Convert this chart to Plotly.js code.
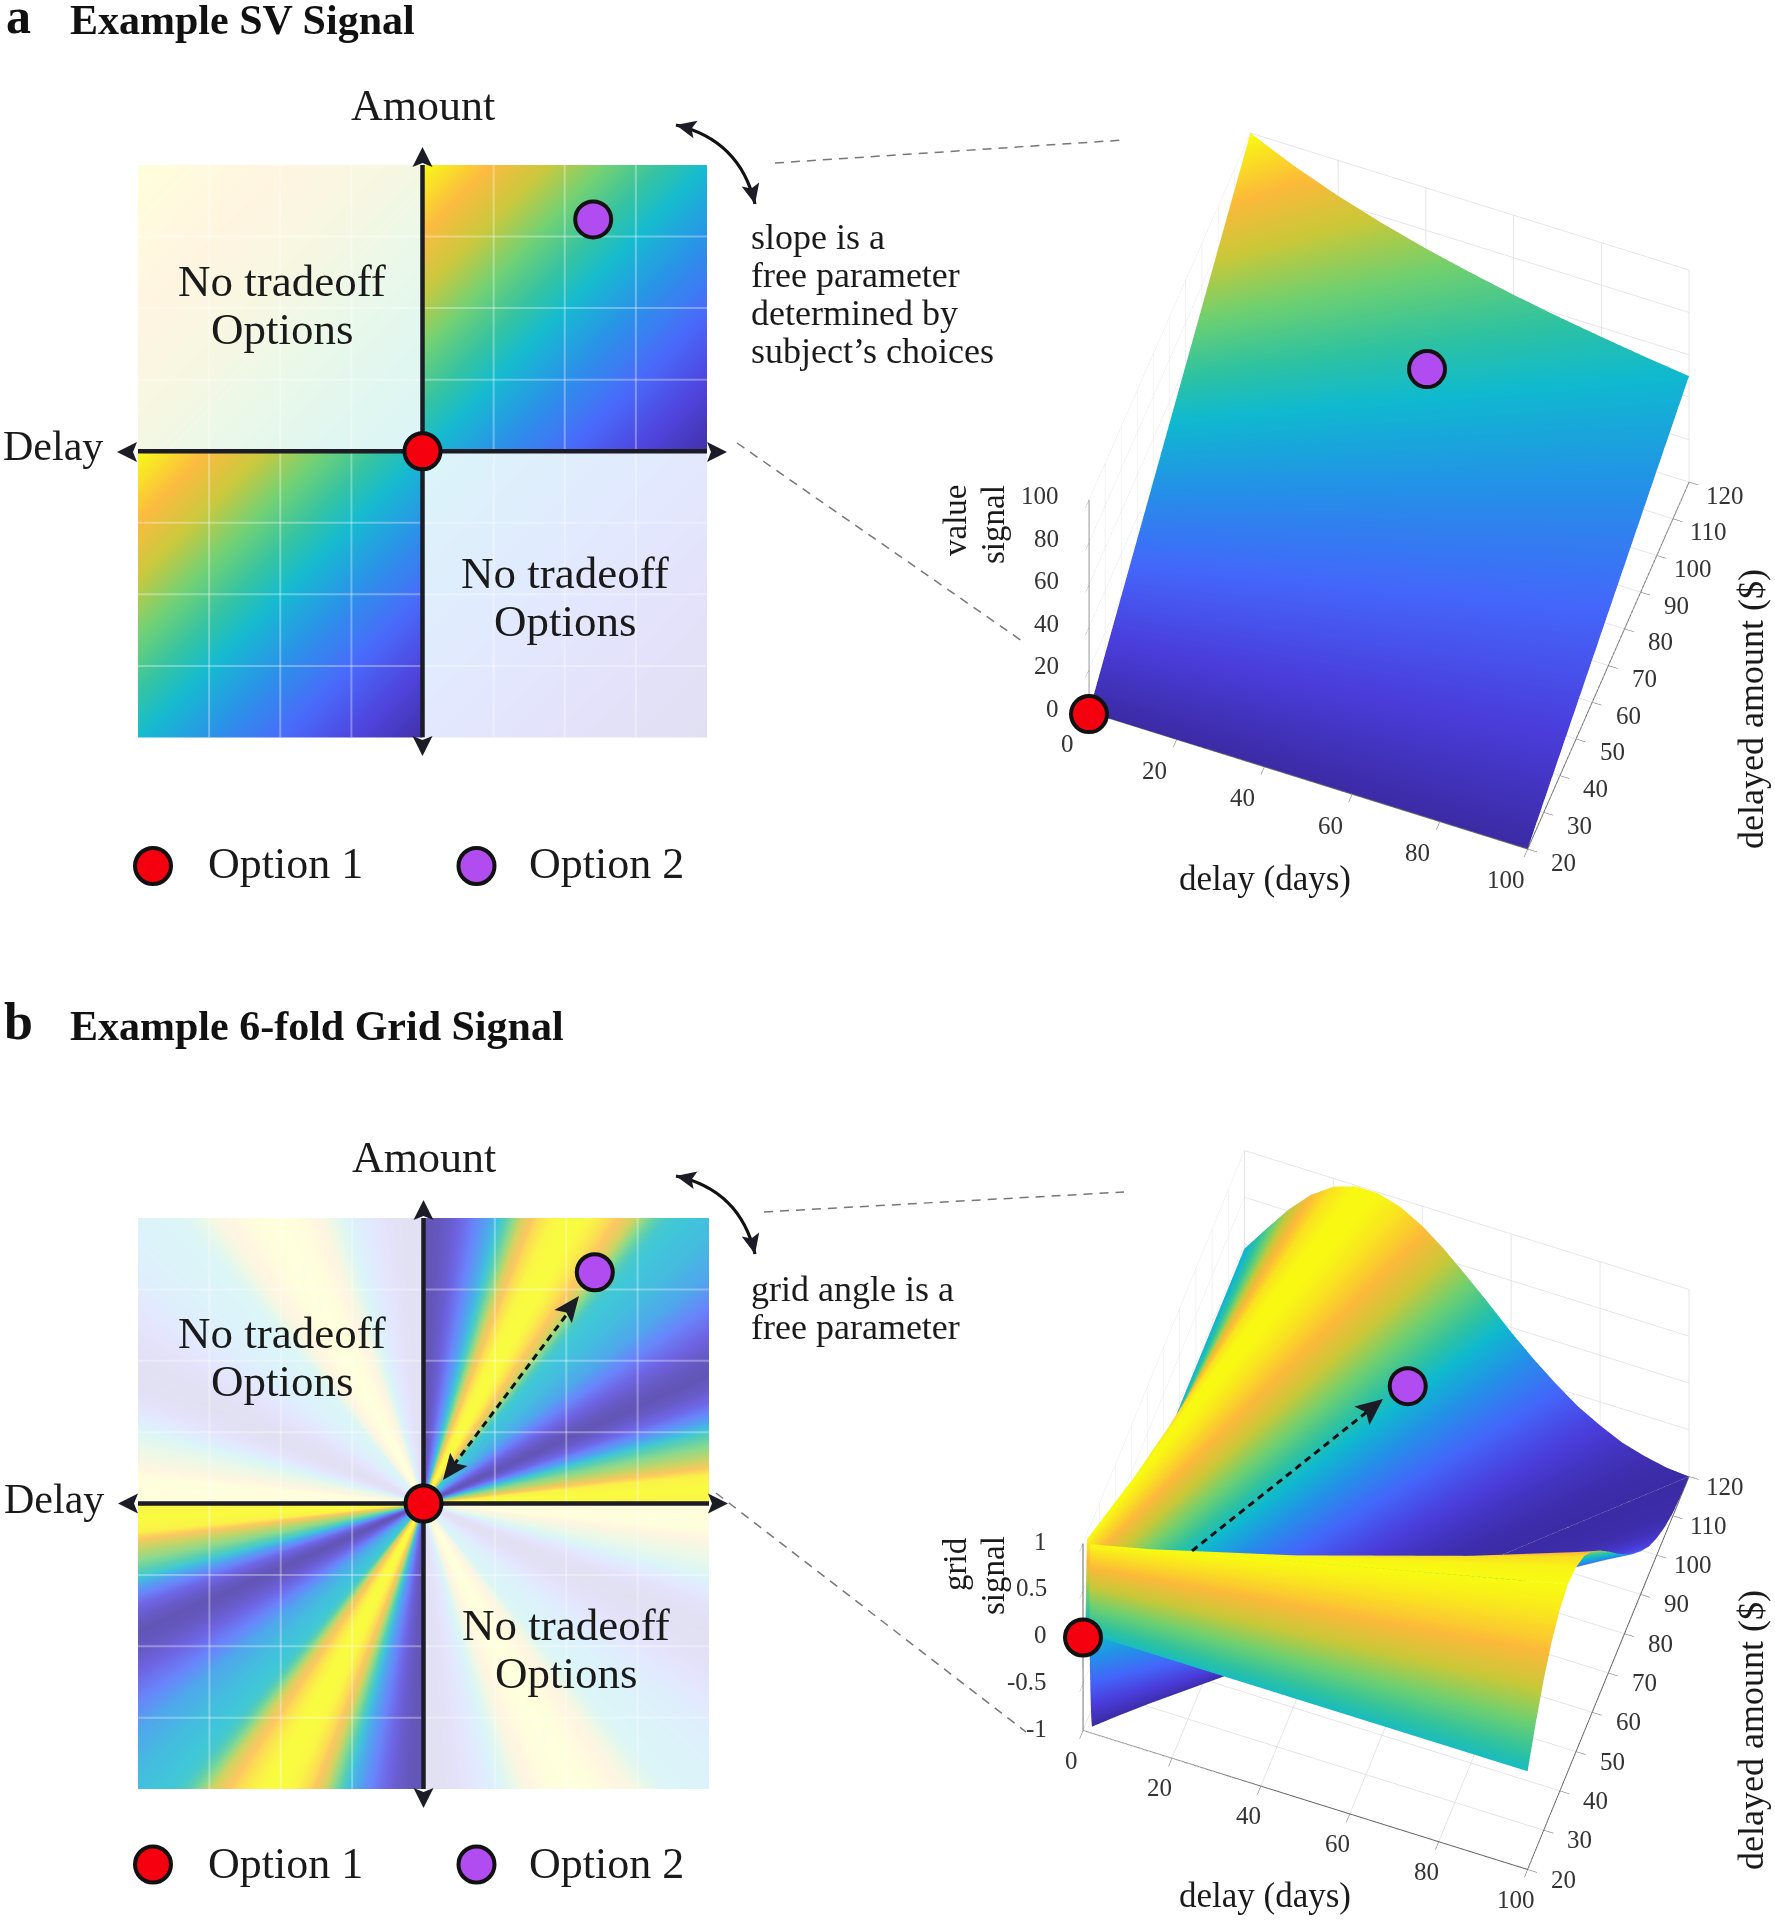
<!DOCTYPE html>
<html><head><meta charset="utf-8">
<script src="https://cdn.plot.ly/plotly-3.0.1.min.js"></script>
<style>html,body{margin:0;padding:0;background:#fff}#c{width:1775px;height:1920px;position:relative;z-index:0}.gl-container{position:absolute!important;top:0;left:0;z-index:-1!important}</style>
</head><body><div id="c"></div>
<script>
var W=1775,H=1920;
// ---- data ----
var mapTicks=[25,50,75];
var option1=[0,0], option2=[60,81];
var diagAxis=[0,20,40,60,80,100];
var svQuadrant=[
 [.50,.40,.30,.20,.10,.00],
 [.60,.50,.40,.30,.20,.10],
 [.70,.60,.50,.40,.30,.20],
 [.80,.70,.60,.50,.40,.30],
 [.90,.80,.70,.60,.50,.40],
 [1.0,.90,.80,.70,.60,.50]];
var paleX=[-100,-50,0], paleY=[0,50,100];
var svPaleUpper=[[.75,.62,.5],[.88,.75,.62],[1,.88,.75]];
var paleX2=[0,50,100], paleY2=[-100,-50,0];
var svPaleLower=[[.25,.12,0],[.38,.25,.12],[.5,.38,.25]];
// map b: one value per ray from the origin to the quadrant border
var mapRayX=[100,100,100,100,100,100,100,100,100,100,100,100,100,100,100,100,100,100,100,100,100,95,90,85,80,75,70,65,60,55,50,45,40,35,30,25,20,15,10,5,0];
var mapRayY=[0,5,10,15,20,25,30,35,40,45,50,55,60,65,70,75,80,85,90,95,100,100,100,100,100,100,100,100,100,100,100,100,100,100,100,100,100,100,100,100,100];
var mapRaySignal=[.95,1,.95,.55,.35,.08,-.35,-.7,-.9,-1,-.95,-.85,-.73,-.6,-.47,-.35,-.22,-.18,-.12,-.07,-.05,-.02,.01,.06,.25,.5,.7,.85,.95,1,1,.97,.85,.6,.25,-.12,-.4,-.65,-.85,-.97,-1];
var mapRaySteps=[.01,.5,1];
var svDelay=[0,10,20,30,40,50,60,70,80,90,100];
var svAmount=[20,30,40,50,60,70,80,90,100,110,120];
var svValue=[
 [0,0,0,0,0,0,0,0,0,0,0],
 [10,9.1,8.3,7.7,7.1,6.7,6.3,5.9,5.6,5.3,5],
 [20,18.2,16.7,15.4,14.3,13.3,12.5,11.8,11.1,10.5,10],
 [30,27.3,25,23.1,21.4,20,18.8,17.6,16.7,15.8,15],
 [40,36.4,33.3,30.8,28.6,26.7,25,23.5,22.2,21.1,20],
 [50,45.5,41.7,38.5,35.7,33.3,31.3,29.4,27.8,26.3,25],
 [60,54.5,50,46.2,42.9,40,37.5,35.3,33.3,31.6,30],
 [70,63.6,58.3,53.8,50,46.7,43.8,41.2,38.9,36.8,35],
 [80,72.7,66.7,61.5,57.1,53.3,50,47.1,44.4,42.1,40],
 [90,81.8,75,69.2,64.3,60,56.3,52.9,50,47.4,45],
 [100,90.9,83.3,76.9,71.4,66.7,62.5,58.8,55.6,52.6,50]];
// surface b: rays from (delay 0, amount 20) to the far border, one signal value per ray
var rayDelay=[100,100,100,100,100,100,100,100,100,100,100,100,100,100,100,100,100,100,100,100,100,95,90,85,80,75,70,65,60,55,50,45,40,35,30,25,20,15,10,5,0];
var rayAmount=[20,25,30,35,40,45,50,55,60,65,70,75,80,85,90,95,100,105,110,115,120,120,120,120,120,120,120,120,120,120,120,120,120,120,120,120,120,120,120,120,120];
var raySignal=[.05,.35,.61,.81,.94,1,.97,.88,.72,.52,.3,.07,-.15,-.36,-.54,-.7,-.82,-.91,-.97,-.99,-1,-.98,-.93,-.86,-.75,-.62,-.45,-.26,-.05,.18,.4,.61,.79,.92,.99,.99,.91,.75,.52,.24,-.05];
var raySteps=[.015,.2,.5,1];
var delayTicks=[0,20,40,60,80,100];
var amountTicks=[20,30,40,50,60,70,80,90,100,110,120];
var valueTicks=[0,20,40,60,80,100];
var gridTicks=[-1,-.5,0,.5,1];
var svOption2=[48,99,56], gridOption2=[44,100,-.02], option1At=[0,20,0], svOption1At=[0,20,-1];
var gridPath=[[14.8,46.8,.02],[40,92.6,.05]];

var colors=[[0,'#3b2ba5'],[.12,'#4a3ddb'],[.25,'#4466fb'],[.38,'#2490e8'],[.5,'#0fb9cf'],[.58,'#2fc2a0'],[.68,'#6fd070'],[.78,'#c9c838'],[.88,'#fcb93a'],[1,'#f8fa12']];
var serif='"Liberation Serif", serif';
var opt1c='#f5000f', opt2c='#b14df0';

// ---- helpers ----
function dx(p){return p/W;} function dy(p){return 1-p/H;}
var layout={width:W,height:H,margin:{l:0,r:0,t:0,b:0},paper_bgcolor:'rgba(0,0,0,0)',plot_bgcolor:'rgba(0,0,0,0)',showlegend:false,annotations:[],shapes:[]};
var data=[];
function panelAxis(x0,x1,y0,y1,xr,yr,id){
  var xk=id===1?'xaxis':'xaxis'+id, yk=id===1?'yaxis':'yaxis'+id;
  layout[xk]={domain:[dx(x0),dx(x1)],range:xr,visible:false,fixedrange:true,anchor:'y'+(id===1?'':id)};
  layout[yk]={domain:[dy(y1),dy(y0)],range:yr,visible:false,fixedrange:true,anchor:'x'+(id===1?'':id)};
  return ['x'+(id===1?'':id),'y'+(id===1?'':id)];
}
function heat(ax,x,y,z,op){
  data.push({type:'heatmap',x:x,y:y,z:z,zmin:0,zmax:1,zsmooth:'best',colorscale:colors,showscale:false,opacity:op,hoverinfo:'skip',xaxis:ax[0],yaxis:ax[1]});
}
var qa=[panelAxis(422.5,707,165,452,[0,100],[0,100],1),panelAxis(138,422.5,165,452,[-100,0],[0,100],2),
        panelAxis(138,422.5,452,737.5,[-100,0],[-100,0],3),panelAxis(422.5,707,452,737.5,[0,100],[-100,0],4)];
var pa=panelAxis(138,707,165,737.5,[-100,100],[-100,100],5);
var pb=panelAxis(138,709,1218,1789,[-100,100],[-100,100],6);
var px=panelAxis(0,W,0,H,[0,W],[H,0],7);

heat(qa[0],diagAxis,diagAxis,svQuadrant,.97);
heat(qa[1],paleX,paleY,svPaleUpper,.15);
heat(qa[2],diagAxis.map(function(v){return v-100;}),diagAxis.map(function(v){return v-100;}),svQuadrant,.97);
heat(qa[3],paleX2,paleY2,svPaleLower,.15);

function mapOverlay(ax,yExt,xExt){
  var gx=[],gy=[];
  mapTicks.concat(mapTicks.map(function(v){return -v;})).forEach(function(t){
    gx.push(t,t,null,-100,100,null);gy.push(-100,100,null,t,t,null);
  });
  data.push({type:'scatter',mode:'lines',x:gx,y:gy,line:{color:'rgba(255,255,255,.32)',width:2},hoverinfo:'skip',xaxis:ax[0],yaxis:ax[1]});
  data.push({type:'scatter',mode:'lines',x:[-xExt,xExt,null,0,0],y:[0,0,null,-yExt,yExt],line:{color:'#1c1c26',width:4.5},cliponaxis:false,hoverinfo:'skip',xaxis:ax[0],yaxis:ax[1]});
}
function dots(ax,x,y,c){
  data.push({type:'scatter',mode:'markers',x:x,y:y,marker:{size:36,color:c,line:{color:'#111',width:4}},cliponaxis:false,hoverinfo:'skip',xaxis:ax[0],yaxis:ax[1]});
}
mapOverlay(pa,100,100);
mapOverlay(pb,100,100);
data.push({type:'scatter',mode:'lines',x:[8,53],y:[10,70],line:{color:'#111',width:3,dash:'7px,5px'},hoverinfo:'skip',xaxis:pb[0],yaxis:pb[1]});
dots(pa,[option1[0]],[option1[1]],opt1c);dots(pa,[option2[0]],[option2[1]],opt2c);
dots(pb,[option1[0]],[option1[1]],opt1c);dots(pb,[option2[0]],[option2[1]],opt2c);
dots(px,[153],[866],opt1c);dots(px,[476.5],[866],opt2c);
dots(px,[153],[1864.5],opt1c);dots(px,[476.5],[1864.5],opt2c);

function head(x,y,ux,uy,s,w){
  var l=Math.sqrt(ux*ux+uy*uy);ux/=l;uy/=l;
  var bx=x-ux*s,by=y-uy*s,nx=-uy*w,ny=ux*w;
  var mx=x-ux*s*.8,my=y-uy*s*.8;
  return {type:'path',xref:px[0],yref:px[1],path:'M'+x+' '+y+'L'+(bx+nx)+' '+(by+ny)+'L'+mx+' '+my+'L'+(bx-nx)+' '+(by-ny)+'Z',fillcolor:'#1c1c26',line:{width:0},layer:'above'};
}
function dashLine(x0,y0,x1,y1){layout.shapes.push({type:'line',xref:px[0],yref:px[1],x0:x0,y0:y0,x1:x1,y1:y1,line:{color:'#777',width:1.5,dash:'9px,7px'}});}
function curve(x0,y0,cx,cy,x1,y1){
  layout.shapes.push({type:'path',xref:px[0],yref:px[1],path:'M'+x0+' '+y0+'Q'+cx+' '+cy+' '+x1+' '+y1,line:{color:'#111',width:3.2},layer:'above'});
  layout.shapes.push(head(x0,y0,x0-cx,y0-cy,20,9));
  layout.shapes.push(head(x1,y1,x1-cx,y1-cy,20,9));
}
function mapHeads(c,m,l,r,t,b){
  layout.shapes.push(head(l,m,-1,0,20,10),head(r,m,1,0,20,10),head(c,t,0,-1,20,10),head(c,b,0,1,20,10));
}
mapHeads(422.5,452,117,727,147,756);
mapHeads(423.5,1503.5,118,728,1200,1808);
curve(676,125,740,140,755,204);
curve(676,1176,740,1190,755,1254);
layout.shapes.push(head(579,1296,1,-1.3,26,11),head(443,1480,-1,1.3,26,11));
dashLine(775,163,1124,140);dashLine(737,443,1022,641);
dashLine(764,1212,1124,1192);dashLine(716,1493,1026,1732);

function ann(t,x,y,size,o){
  var a={text:t,xref:'paper',yref:'paper',x:dx(x),y:dy(y),xanchor:'center',yanchor:'middle',showarrow:false,font:{family:serif,size:size,color:'#1a1a1a'}};
  for(var k in (o||{}))a[k]=o[k];
  layout.annotations.push(a);
}
function bold(s){return {font:{family:serif,size:s,color:'#111',weight:700}};}
ann('a',18,16,50,bold(50));
ann('b',18,1021,52,bold(52));
ann('Example SV Signal',68,20,42,Object.assign({xanchor:'left'},bold(42)));
ann('Example 6-fold Grid Signal',68,1026,42,Object.assign({xanchor:'left'},bold(42)));
[[422.5,105],[423.5,1157]].forEach(function(p){ann('Amount',p[0],p[1],44);});
[[53,446],[54,1499]].forEach(function(p){ann('Delay',p[0],p[1],42);});
function tradeoff(x,y){ann('No tradeoff',x,y,45);ann('Options',x,y+48,45);}
tradeoff(282,281);tradeoff(565,573);tradeoff(282,1333);tradeoff(566,1625);
[[285,864],[285,1863]].forEach(function(p){ann('Option 1',p[0],p[1],44);});
[[606,864],[606,1863]].forEach(function(p){ann('Option 2',p[0],p[1],44);});
function lines(arr,x,y){arr.forEach(function(t,i){ann(t,x,y+i*38,36,{xanchor:'left'});});}
lines(['slope is a','free parameter','determined by','subject’s choices'],749,237);
lines(['grid angle is a','free parameter'],749,1289);
ann('value',955,520,33,{textangle:-90});ann('signal',993,524,33,{textangle:-90});
ann('grid',955,1564,33,{textangle:-90});ann('signal',993,1575,33,{textangle:-90});
ann('delay (days)',1265,879,35);ann('delay (days)',1265,1895,35);
ann('delayed amount ($)',1751,709,36,{textangle:-90});
ann('delayed amount ($)',1751,1730,36,{textangle:-90});

// 3D geometry of the two cubes on the page
var geoA={o:[1089,712],x:[438.6,137],y:[161.4,-367],z:[0,-212],zr:[0,100],dl:[-22,31],al:[36,13],zl:[-28,-4]};
var geoB={o:[1083,1731],x:[444.6,139],y:[161.4,-393],z:[0,-187],zr:[-1,1],dl:[-12,29],al:[36,9],zl:[-34,-3]};
function proj(g,p){
  var a=p[0]/100,b=(p[1]-20)/100,c=(p[2]-g.zr[0])/(g.zr[1]-g.zr[0]);
  return [g.o[0]+a*g.x[0]+b*g.y[0]+c*g.z[0],g.o[1]+a*g.x[1]+b*g.y[1]+c*g.z[1]];
}
function tickText(g,zt){
  delayTicks.forEach(function(v){var q=proj(g,[v,20,g.zr[0]]);ann(String(v),q[0]+g.dl[0],q[1]+g.dl[1],25,{font:{family:serif,size:25,color:'#333'}});});
  amountTicks.forEach(function(v){var q=proj(g,[100,v,g.zr[0]]);ann(String(v),q[0]+g.al[0],q[1]+g.al[1],25,{font:{family:serif,size:25,color:'#333'}});});
  zt.forEach(function(v){var q=proj(g,[0,20,v]);ann(String(v),q[0]+g.zl[0],q[1]+g.zl[1],25,{xanchor:'right',font:{family:serif,size:25,color:'#333'}});});
}
tickText(geoA,valueTicks);tickText(geoB,gridTicks);
function dot3(g,p,c){var q=proj(g,p);dots(px,[q[0]],[q[1]],c);}
dot3(geoA,svOption1At,opt1c);dot3(geoA,svOption2,opt2c);
var p0=proj(geoB,gridPath[0]),p1=proj(geoB,gridPath[1]);
data.push({type:'scatter',mode:'lines',x:[p0[0],p1[0]],y:[p0[1],p1[1]],line:{color:'#111',width:3,dash:'7px,5px'},hoverinfo:'skip',xaxis:px[0],yaxis:px[1]});
layout.shapes.push(head(p1[0]+5,p1[1]-4,p1[0]-p0[0],p1[1]-p0[1],27,12));
dot3(geoB,option1At,opt1c);dot3(geoB,gridOption2,opt2c);

// scenes
function axis3(r,tv){
  return {range:r,tickvals:tv,showticklabels:false,title:{text:''},showbackground:false,showgrid:true,gridcolor:'#dedede',gridwidth:1.5,
    showline:true,linecolor:'#666',linewidth:2,ticks:'outside',ticklen:10,tickcolor:'#666',zeroline:false,showspikes:false};
}
function scene(cx,cy,half,R,E,asp,zr,zt){
  return {domain:{x:[dx(cx-half),dx(cx+half)],y:[dy(cy+half),dy(cy-half)]},
    camera:{eye:{x:E[0]*R,y:E[1]*R,z:E[2]*R},center:{x:0,y:0,z:0},up:{x:0,y:0,z:1},projection:{type:'orthographic'}},
    aspectmode:'manual',aspectratio:{x:asp[0],y:asp[1],z:asp[2]},bgcolor:'rgba(0,0,0,0)',
    xaxis:axis3([0,100],delayTicks),yaxis:axis3([20,120],amountTicks),zaxis:axis3(zr,zt)};
}
layout.scene=scene(1389,491,386,2,[.1871,-.5046,.8428],[1.212,1.203,1.0205],[0,100],valueTicks);
layout.scene2=scene(1386,1510,386,2,[.1648,-.46,.8725],[1.2236,1.2396,.9915],[-1,1],gridTicks);
layout.scene3={domain:{x:[dx(138),dx(709)],y:[dy(1789),dy(1218)]},
  camera:{eye:{x:0,y:0,z:2},center:{x:0,y:0,z:0},up:{x:0,y:1,z:0},projection:{type:'orthographic'}},
  aspectmode:'manual',aspectratio:{x:2,y:2,z:.01},bgcolor:'rgba(0,0,0,0)',
  xaxis:{visible:false,range:[-100,100]},yaxis:{visible:false,range:[-100,100]},zaxis:{visible:false,range:[-1,1]}};
var flat={ambient:1,diffuse:0,specular:0,roughness:1,fresnel:0};
data.push({type:'surface',scene:'scene',x:svDelay,y:svAmount,z:svValue,colorscale:colors,cmin:0,cmax:100,showscale:false,lighting:flat,hoverinfo:'skip'});
function rowsOf(ends,steps,off){return ends.map(function(e){return steps.map(function(s){return off+e*s;});});}
data.push({type:'surface',scene:'scene2',
  x:rowsOf(rayDelay,raySteps,0),
  y:rayAmount.map(function(a){return raySteps.map(function(s){return 20+(a-20)*s;});}),
  z:raySignal.map(function(v){return raySteps.map(function(){return v;});}),
  colorscale:colors,cmin:-1,cmax:1,showscale:false,lighting:flat,hoverinfo:'skip'});
function mapQuad(sx,sy,op){
  data.push({type:'surface',scene:'scene3',
    x:rowsOf(mapRayX,mapRaySteps,0).map(function(r){return r.map(function(v){return sx*v;});}),
    y:rowsOf(mapRayY,mapRaySteps,0).map(function(r){return r.map(function(v){return sy*v;});}),
    z:mapRaySignal.map(function(v){return mapRaySteps.map(function(){return v;});}),
    colorscale:colors,cmin:-1,cmax:1,showscale:false,opacity:op,lighting:flat,hoverinfo:'skip'});
}
mapQuad(1,1,.8);mapQuad(-1,-1,.8);mapQuad(-1,1,.15);mapQuad(1,-1,.15);

Plotly.newPlot('c',data,layout,{displayModeBar:false,responsive:false});
</script></body></html>
